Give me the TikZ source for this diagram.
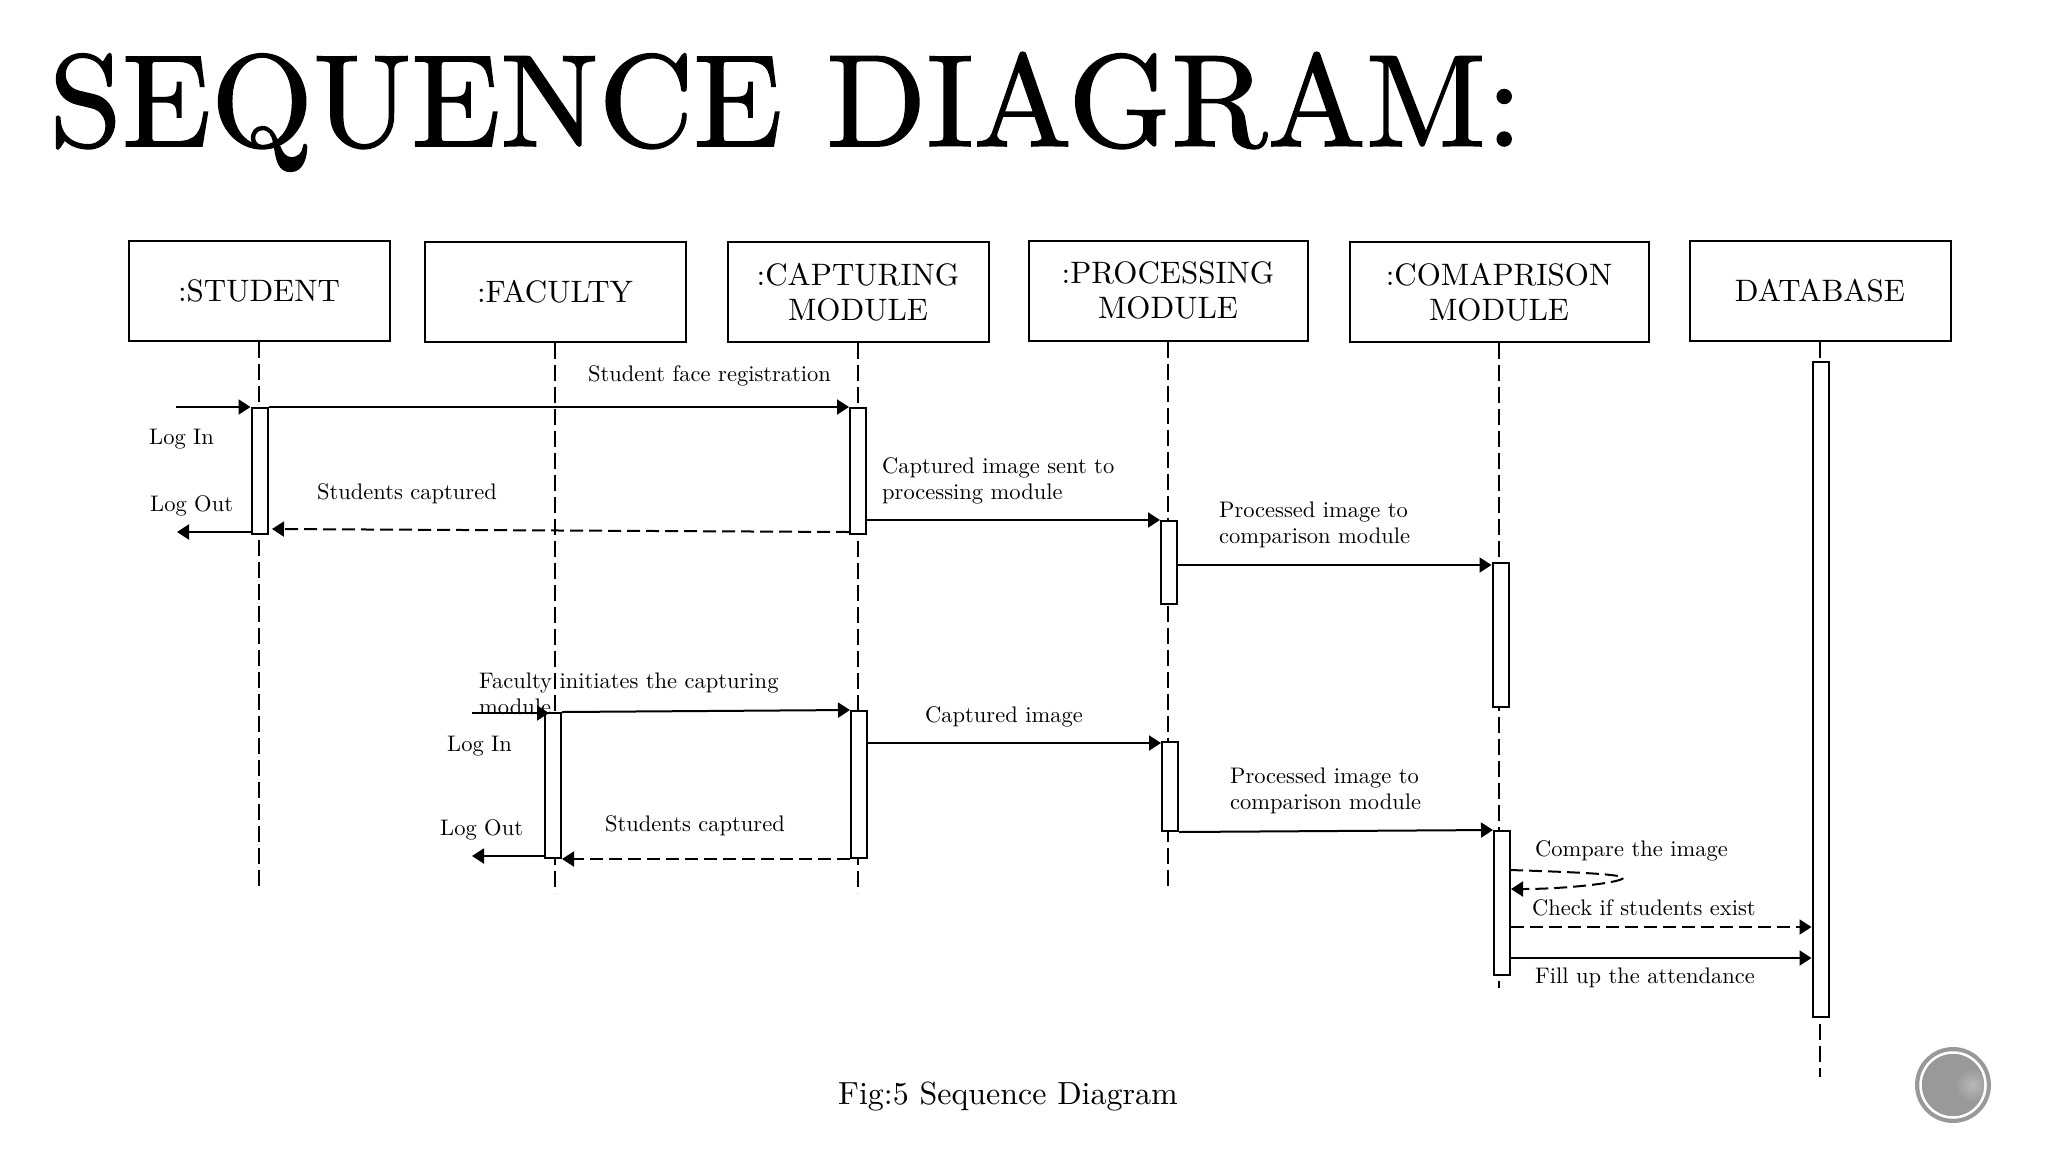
\documentclass[tikz,border=0pt]{standalone}
\usepackage{fontspec}
\setmainfont{lmroman10-regular.otf}
\newfontfamily\headfont{lmroman10-regular.otf}[FakeBold=1.2]
\usepackage{xcolor}
\usetikzlibrary{positioning, arrows.meta, calc}
\definecolor{seal-gray}{gray}{.6}
\definecolor{seal-light}{gray}{.72}
\tikzset{
	>={Triangle[length=12pt,width=15pt]},
	actor/.style={draw, line width=2pt, minimum height=100pt, inner sep=0pt, align=center, font=\fontsize{31}{35}\selectfont},
	activation/.style={draw, line width=2pt, fill=white, minimum width=16pt, inner sep=0pt, anchor=north},
	lifeline/.style={-, line width=2pt, dash pattern=on 16pt off 6pt},
	call/.style={->, line width=2pt},
	reply/.style={->, line width=2pt, dash pattern=on 13pt off 6pt},
	msg/.style={inner sep=0pt, anchor=west, align=left, font=\fontsize{22.5}{26}\selectfont},
}
\begin{document}
\begin{tikzpicture}[x=1pt, y=-1pt]
	\useasboundingbox (0,0) rectangle (2048,1152);
	\node[inner sep=0pt, anchor=base west, font=\headfont\fontsize{131}{131}\selectfont] (title) at (49,146) {SEQUENCE DIAGRAM:};
	\node[actor, minimum width=261pt] (student) at (259,290.5) {:STUDENT};
	\node[actor, minimum width=261pt] (faculty) at (555,292) {:FACULTY};
	\node[actor, minimum width=261pt] (capturing) at (858,292) {:CAPTURING\\MODULE};
	\node[actor, minimum width=279pt] (processing) at (1168,290.5) {:PROCESSING\\MODULE};
	\node[actor, minimum width=299pt] (comparison) at (1499,292) {:COMAPRISON\\MODULE};
	\node[actor, minimum width=261pt] (database) at (1820,290.5) {DATABASE};
	\coordinate (studentend) at (student.south |- 0,891);
	\coordinate (facultyend) at (faculty.south |- 0,893);
	\coordinate (capturingend) at (capturing.south |- 0,893);
	\coordinate (processingend) at (processing.south |- 0,891);
	\coordinate (comparisonend) at (comparison.south |- 0,988);
	\coordinate (databaseend) at (database.south |- 0,1077);
	\draw
	(student.south) edge[lifeline] (studentend)
	(faculty.south) edge[lifeline] (facultyend)
	(capturing.south) edge[lifeline] (capturingend)
	(processing.south) edge[lifeline] (processingend)
	(comparison.south) edge[lifeline] (comparisonend)
	(database.south) edge[lifeline] (databaseend);
	\node[activation, minimum height=126pt] (studentact) at (259.5,407) {};
	\node[activation, minimum height=126pt] (capone) at (858,407) {};
	\node[activation, minimum height=83pt] (procone) at (1169,520) {};
	\node[activation, minimum height=144pt] (compone) at (1500.5,562) {};
	\node[activation, minimum height=655pt] (dbact) at (1820.5,361) {};
	\node[activation, minimum height=145pt] (facultyact) at (553,712) {};
	\node[activation, minimum height=147pt] (captwo) at (859,710) {};
	\node[activation, minimum height=89pt] (proctwo) at (1170,741) {};
	\node[activation, minimum height=144pt] (comptwo) at (1502,830) {};
	\coordinate (studentin) at (176,407);
	\coordinate (studentout) at (177,532);
	\coordinate (facultyin) at (472,713);
	\coordinate (facultyout) at (472,856);
	\coordinate (selfstart) at (1510,870);
	\coordinate (selfturn) at (1623,878);
	\coordinate (selfend) at (1511,889);
	\draw
	(studentin) edge[call] (studentact.north west)
	(studentact.north east) edge[call] (capone.north west)
	(studentact.west |- studentout) edge[call] (studentout)
	(capone.west |- 0,532) edge[reply] (272,529)
	(capone.east |- procone.north) edge[call] (procone.north west)
	(procone.east |- 0,565) edge[call] (compone.west |- 0,565)
	(facultyin) edge[call] (549,713)
	(facultyact.north east) edge[call] (captwo.north west)
	(facultyact.west |- facultyout) edge[call] (facultyout)
	(captwo.south west) edge[reply] (facultyact.south east)
	(captwo.east |- 0,743) edge[call] (proctwo.west |- 0,743)
	(proctwo.south east) edge[call] (comptwo.west |- 0,830)
	(comptwo.east |- 0,927) edge[reply] (dbact.west |- 0,927)
	(comptwo.east |- 0,958) edge[call] (dbact.west |- 0,958);
	\draw[reply, -] (selfstart) .. controls (1570,872) and (1623,874) .. (selfturn);
	\draw[reply] (selfturn) .. controls (1623,882) and (1570,889) .. (selfend);
	\node[msg] (registration) at (588,376) {Student face registration};
	\node[msg] (loginone) at (149,439) {Log In};
	\node[msg] (logoutone) at (150,506) {Log Out};
	\node[msg] (capturedone) at (317,494) {Students captured};
	\node[msg] (sentto) at (882,481) {Captured image sent to\\processing module};
	\node[msg] (processedone) at (1219,525) {Processed image to\\comparison module};
	\node[msg] (initiates) at (479,694) {Faculty initiates the capturing\\module};
	\node[msg] (capturedimage) at (925,717) {Captured image};
	\node[msg] (logintwo) at (447,746) {Log In};
	\node[msg] (logouttwo) at (440,830) {Log Out};
	\node[msg] (capturedtwo) at (605,826) {Students captured};
	\node[msg] (processedtwo) at (1230,791) {Processed image to\\comparison module};
	\node[msg] (compare) at (1535,851) {Compare the image};
	\node[msg] (check) at (1532,908) {Check if students exist};
	\node[msg] (fill) at (1535,978) {Fill up the attendance};
	\node[inner sep=0pt, font=\fontsize{32}{36}\selectfont] (caption) at (1008,1096) {Fig:5 Sequence Diagram};
	\fill[seal-gray] (1953,1085) circle (38pt);
	\shade[inner color=seal-light, outer color=seal-gray] (1972,1085) circle (17pt);
	\draw[white, line width=2.5pt] (1953,1085) circle (32.5pt);
\end{tikzpicture}
\end{document}
